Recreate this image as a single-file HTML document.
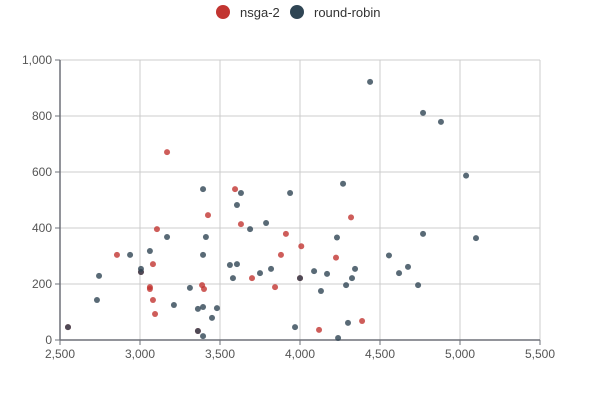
<!DOCTYPE html>
<html><head><meta charset="utf-8"><style>
html,body{margin:0;padding:0;background:#fff;}
svg{display:block;font-family:"Liberation Sans",sans-serif;}
</style></head><body>
<svg id="chart" width="600" height="400" viewBox="0 0 600 400">
<g id="legend">
 <g><circle cx="223" cy="12" r="7" fill="#c23531"/><text x="240" y="17" font-size="13" fill="#333">nsga-2</text></g>
 <g><circle cx="297" cy="12" r="7" fill="#2f4554"/><text x="314" y="17" font-size="13" fill="#333">round-robin</text></g>
</g>
<g id="grid"></g>
<g id="axes"></g>
<g id="marks"></g>
</svg>
<script>
const xTicks=[2500,3000,3500,4000,4500,5000,5500];
const yTicks=[0,200,400,600,800,1000];
const nsgaX=[2856,3169,3106,3081,3062,3062,3081,3094,3006,3425,3594,3631,3700,3388,3400,3844,3881,3912,2550,4008,4000,4225,4319,4119,4388,3362];
const nsgaY=[304,671,396,271,189,182,143,93,243,446,539,414,221,196,182,189,304,379,46,335,221,294,438,36,68,32];
const rrX=[2744,2731,2550,2938,3006,3062,3169,3212,3312,3362,3394,3394,3412,3394,3362,3394,3450,3481,3562,3581,3606,3606,3631,3688,3750,3788,3819,3938,3969,4438,4769,4881,5038,5100,4769,4269,4231,4556,4088,4169,4344,4325,4288,4131,4619,4675,4738,4300,4238,4000,3006];
const rrY=[229,143,46,304,254,318,368,125,186,111,118,539,368,304,32,14,79,114,268,221,271,482,525,396,239,418,254,525,46,922,811,779,587,364,379,558,366,302,246,236,254,221,196,175,239,261,196,61,7,221,243];
const L=60,R=540,T=60,B=340;
const xS=v=>L+(v-2500)/3000*(R-L);
const yS=v=>B-v/1000*(B-T);
const NS="http://www.w3.org/2000/svg";
function mk(tag,attrs,parent){const e=document.createElementNS(NS,tag);for(const k in attrs)e.setAttribute(k,attrs[k]);parent.appendChild(e);return e;}
const grid=document.getElementById('grid'),axes=document.getElementById('axes'),marks=document.getElementById('marks');
const fmt=v=>v.toLocaleString('en-US');
xTicks.forEach(t=>{
 const x=xS(t);
 if(t>2500){const g=mk('line',{x1:x,x2:x,y1:T,y2:B,stroke:'#ccc','stroke-width':1},grid);
 
 }
 const tk=mk('line',{x1:x,x2:x,y1:B,y2:B+5,stroke:'#6e7079'},axes);
 
 
 const tx=mk('text',{x:x,y:B+18,'text-anchor':'middle','font-size':12,fill:'#555'},axes);
 tx.textContent=fmt(t);
 
 
});
yTicks.forEach(t=>{
 const y=yS(t);
 if(t>0){const g=mk('line',{x1:L,x2:R,y1:y,y2:y,stroke:'#ccc','stroke-width':1},grid);
 
 }
 const tk=mk('line',{x1:L-5,x2:L,y1:y,y2:y,stroke:'#6e7079'},axes);
 
 
 const tx=mk('text',{x:L-8,y:y+4,'text-anchor':'end','font-size':12,fill:'#555'},axes);
 tx.textContent=fmt(t);
 
 
});
const xa=mk('line',{x1:L,x2:R,y1:B,y2:B,stroke:'#6e7079','stroke-width':1.5},axes);


const ya=mk('line',{x1:L,x2:L,y1:T,y2:B,stroke:'#6e7079','stroke-width':1.5},axes);


nsgaX.forEach((v,i)=>{
 const c=mk('circle',{cx:xS(v),cy:yS(nsgaY[i]),r:3,fill:'#c23531','fill-opacity':0.8},marks);
 
 
});
rrX.forEach((v,i)=>{
 const c=mk('circle',{cx:xS(v),cy:yS(rrY[i]),r:3,fill:'#2f4554','fill-opacity':0.8},marks);
 
 
});
</script>
</body></html>
